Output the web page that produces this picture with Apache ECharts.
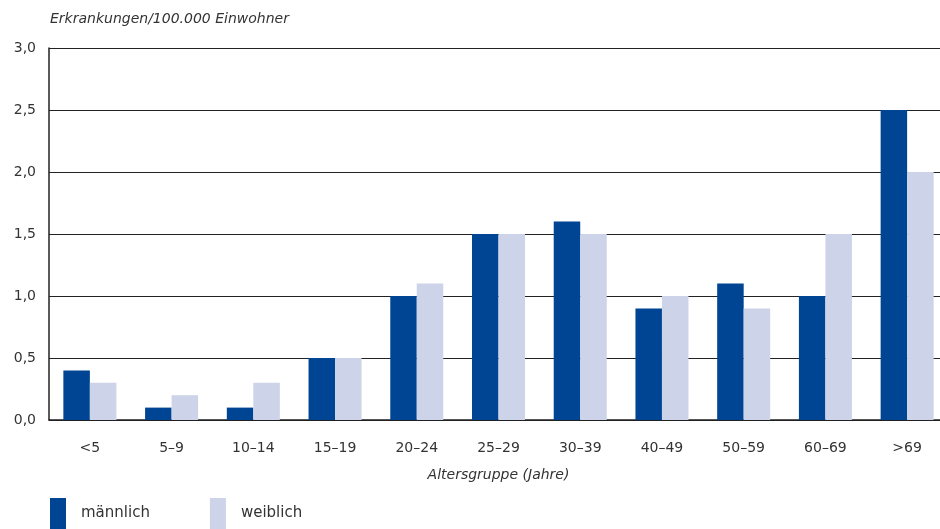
<!DOCTYPE html>
<html><head><meta charset="utf-8">
<script src="https://cdn.jsdelivr.net/npm/echarts@6/dist/echarts.min.js"></script>
<style>html,body{margin:0;padding:0;background:#fff}#c{width:940px;height:529px}</style>
</head><body><div id="c"></div>
<script>
const categories = ['<5','5–9','10–14','15–19','20–24','25–29','30–39','40–49','50–59','60–69','>69'];
const male = [0.4,0.1,0.1,0.5,1.0,1.5,1.6,0.9,1.1,1.0,2.5];
const female = [0.3,0.2,0.3,0.5,1.1,1.5,1.5,1.0,0.9,1.5,2.0];
const seriesNames = ['männlich','weiblich'];
const yTitle = 'Erkrankungen/100.000 Einwohner';
const xTitle = 'Altersgruppe (Jahre)';
const FONT = '"DejaVu Sans", sans-serif';
const chart = echarts.init(document.getElementById('c'));
chart.setOption({
  animation:false,
  title:{text:yTitle,left:45,top:7,textStyle:{fontFamily:FONT,fontStyle:'italic',fontWeight:'normal',fontSize:14,color:'#333'}},
  legend:{left:45,top:493,itemWidth:16,itemHeight:31,itemGap:60,icon:'rect',
    textStyle:{fontFamily:FONT,fontSize:15,color:'#333',padding:[26,0,0,10]},
    data:seriesNames},
  grid:{left:49,width:899,top:48,height:372,outerBoundsMode:'none',containLabel:false},
  xAxis:{type:'category',data:categories,
    axisLine:{lineStyle:{color:'#222',width:1.5}},
    axisTick:{length:8,lineStyle:{color:'#222',width:1.5}},
    axisLabel:{fontFamily:FONT,fontSize:14,color:'#333',margin:21},
    name:xTitle,nameLocation:'middle',nameGap:48,
    nameTextStyle:{fontFamily:FONT,fontStyle:'italic',fontSize:14,color:'#333'}},
  yAxis:{type:'value',min:0,max:3,interval:0.5,
    axisLine:{show:true,lineStyle:{color:'#222',width:1.5}},
    axisTick:{show:false},
    splitLine:{lineStyle:{color:'#222',width:1.2}},
    axisLabel:{fontFamily:FONT,fontSize:14,color:'#333',margin:13,
      formatter:v=>v.toFixed(1).replace('.',',')}},
  series:[
    {name:seriesNames[0],type:'bar',data:male,barWidth:26.5,barGap:'0%',itemStyle:{color:'#004494'}},
    {name:seriesNames[1],type:'bar',data:female,barWidth:26.5,barGap:'0%',itemStyle:{color:'#cdd3e8'}}
  ]
});
</script></body></html>
